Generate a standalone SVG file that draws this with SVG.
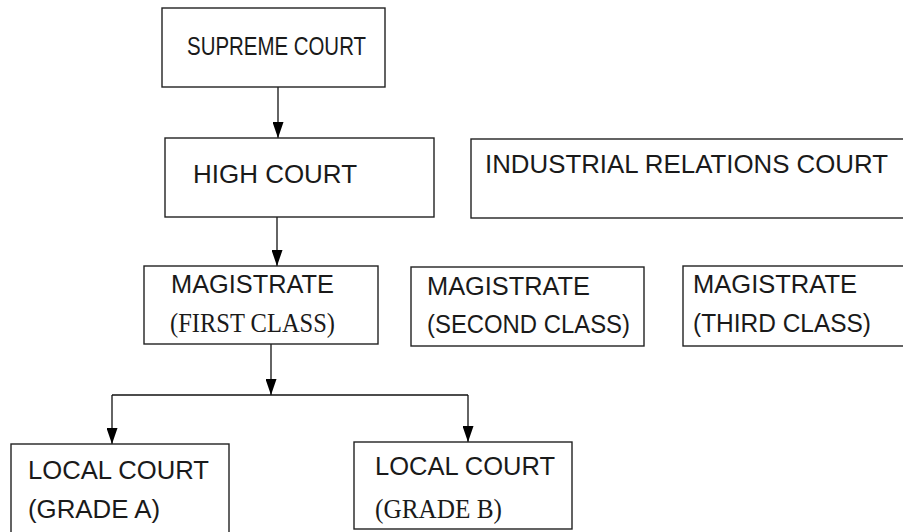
<svg xmlns="http://www.w3.org/2000/svg" width="903" height="532" viewBox="0 0 903 532">
<defs>
<marker id="ah" viewBox="0 0 16 11" markerWidth="16" markerHeight="11" refX="16" refY="5.5" orient="auto" markerUnits="userSpaceOnUse">
<path d="M0,0 L16,5.5 L0,11 Z" fill="#000"/>
</marker>
<style>
.box{fill:#fff;stroke:#222;stroke-width:1.4}
.t{font-family:"Liberation Sans","DejaVu Sans",sans-serif;font-size:25px;fill:#1a1a1a}
.s{font-family:"Liberation Serif","DejaVu Serif",serif;font-size:27px;fill:#1a1a1a}
.c{fill:none;stroke:#111;stroke-width:1.3}
</style>
</defs>
<rect width="903" height="532" fill="#fff"/>
<g id="connectors">
<path class="c" d="M278,87 V138" marker-end="url(#ah)"/>
<path class="c" d="M277,217 V266" marker-end="url(#ah)"/>
<path class="c" d="M271,344 V395" marker-end="url(#ah)"/>
<path class="c" d="M112,395 H468"/>
<path class="c" d="M112,395 V444" marker-end="url(#ah)"/>
<path class="c" d="M468,395 V442" marker-end="url(#ah)"/>
</g>
<g id="supreme-court">
<rect class="box" x="162" y="8" width="223" height="79"/>
<text class="t" x="187" y="55" textLength="179" lengthAdjust="spacingAndGlyphs">SUPREME COURT</text>
</g>
<g id="high-court">
<rect class="box" x="165" y="138" width="269" height="79"/>
<text class="t" x="193" y="183" textLength="164" lengthAdjust="spacingAndGlyphs">HIGH COURT</text>
</g>
<g id="industrial-relations-court">
<rect class="box" x="471" y="139" width="440" height="79"/>
<text class="t" x="485" y="173" textLength="403" lengthAdjust="spacingAndGlyphs">INDUSTRIAL RELATIONS COURT</text>
</g>
<g id="magistrate-first">
<rect class="box" x="144" y="266" width="234" height="78"/>
<text class="t" x="171" y="293" textLength="163" lengthAdjust="spacingAndGlyphs">MAGISTRATE</text>
<text class="s" x="170" y="332" textLength="165" lengthAdjust="spacingAndGlyphs">(FIRST CLASS)</text>
</g>
<g id="magistrate-second">
<rect class="box" x="411" y="267" width="233" height="79"/>
<text class="t" x="427" y="295" textLength="163" lengthAdjust="spacingAndGlyphs">MAGISTRATE</text>
<text class="t" x="427" y="333" textLength="203" lengthAdjust="spacingAndGlyphs">(SECOND CLASS)</text>
</g>
<g id="magistrate-third">
<rect class="box" x="683" y="266" width="240" height="80"/>
<text class="t" x="693" y="293" textLength="164" lengthAdjust="spacingAndGlyphs">MAGISTRATE</text>
<text class="t" x="693" y="332" textLength="178" lengthAdjust="spacingAndGlyphs">(THIRD CLASS)</text>
</g>
<g id="local-court-a">
<rect class="box" x="11" y="444" width="218" height="100"/>
<text class="t" x="28" y="479" textLength="181" lengthAdjust="spacingAndGlyphs">LOCAL COURT</text>
<text class="t" x="28" y="518" textLength="132" lengthAdjust="spacingAndGlyphs">(GRADE A)</text>
</g>
<g id="local-court-b">
<rect class="box" x="354" y="442" width="218" height="87"/>
<text class="t" x="375" y="475" textLength="180" lengthAdjust="spacingAndGlyphs">LOCAL COURT</text>
<text class="s" x="375" y="518" textLength="127" lengthAdjust="spacingAndGlyphs">(GRADE B)</text>
</g>
</svg>
